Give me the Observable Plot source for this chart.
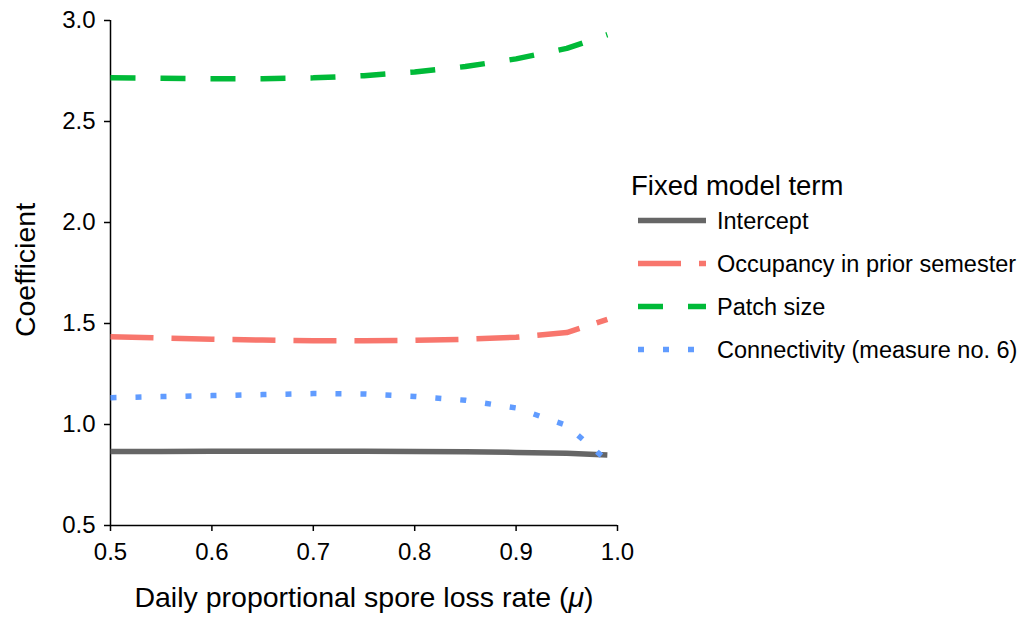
<!DOCTYPE html>
<html>
<head>
<meta charset="utf-8">
<script src="https://cdn.jsdelivr.net/npm/d3@7"></script>
<script src="https://cdn.jsdelivr.net/npm/@observablehq/plot@0.6"></script>
<style>
  body { margin: 0; background: #fff; }
  #wrap { position: relative; width: 1026px; height: 617px; font-family: "Liberation Sans", Arial, sans-serif; }
  #legend { position: absolute; left: 0; top: 0; }
  #wrap svg g.ticklab text { font-size: 24px !important; font-family: "Liberation Sans", Arial, sans-serif; }
</style>
</head>
<body>
<div id="wrap"></div>
<script>
const mu = [0.5, 0.55, 0.6, 0.65, 0.7, 0.75, 0.8, 0.85, 0.9, 0.95, 0.99];
const intercept = [0.866, 0.866, 0.867, 0.867, 0.867, 0.867, 0.866, 0.865, 0.862, 0.858, 0.849];
const occupancy = [1.435, 1.428, 1.422, 1.418, 1.415, 1.415, 1.417, 1.422, 1.432, 1.455, 1.52];
const patchSize = [2.717, 2.714, 2.712, 2.712, 2.716, 2.727, 2.745, 2.772, 2.81, 2.862, 2.93];
const connectivity = [1.133, 1.138, 1.143, 1.148, 1.153, 1.151, 1.139, 1.12, 1.082, 0.995, 0.82];

const terms = ["Intercept", "Occupancy in prior semester", "Patch size", "Connectivity (measure no. 6)"];
const colors = ["#666666", "#F8766D", "#00BA38", "#619CFF"];
const dashes = [null, "43,18", "25,25", "6,19"];
const seriesValues = [intercept, occupancy, patchSize, connectivity];
const xTicks = [0.5, 0.6, 0.7, 0.8, 0.9, 1.0];
const yTicks = [0.5, 1.0, 1.5, 2.0, 2.5, 3.0];
const xTitle = "Daily proportional spore loss rate (";
const yTitle = "Coefficient";
const legendTitle = "Fixed model term";

const fmt = d3.format(".1f");

const marks = [
  Plot.ruleX([0.5], {stroke: "#000", strokeWidth: 1.5}),
  Plot.ruleY([0.5], {stroke: "#000", strokeWidth: 1.5}),
  Plot.axisX({ticks: xTicks, tickFormat: () => "", tickSize: 6, stroke: "#000", strokeWidth: 1.5, label: null}),
  Plot.axisY({ticks: yTicks, tickFormat: () => "", tickSize: 6, stroke: "#000", strokeWidth: 1.5, label: null}),
  Plot.text(xTicks, {x: d => d, text: d => fmt(d), frameAnchor: "bottom", lineAnchor: "top", dy: 17,
    fontSize: 24, fill: "#000", className: "ticklab"}),
  Plot.text(yTicks, {y: d => d, text: d => fmt(d), frameAnchor: "left", textAnchor: "end", dx: -15,
    fontSize: 24, fill: "#000", className: "ticklab"})
];
seriesValues.forEach((vals, i) => {
  const data = mu.map((m, j) => ({mu: m, v: vals[j]}));
  marks.push(Plot.line(data, {x: "mu", y: "v", stroke: colors[i], strokeWidth: 5.5,
    strokeDasharray: dashes[i] || undefined, strokeLinecap: "butt", strokeLinejoin: "round"}));
});

const chart = Plot.plot({
  width: 1026,
  height: 617,
  marginLeft: 110,
  marginRight: 409,
  marginTop: 20,
  marginBottom: 92,
  style: {fontFamily: "Liberation Sans, Arial, sans-serif", color: "#000", background: "#fff", overflow: "visible"},
  x: {domain: [0.5, 1.0]},
  y: {domain: [0.5, 3.0]},
  marks
});

const svg = d3.select(chart);
svg.selectAll("g.ticklab").attr("font-size", 24).selectAll("text").style("font-size", "24px");

// axis titles
const xt = svg.append("text").attr("x", 364).attr("y", 607).attr("text-anchor", "middle")
  .style("font-size", "28.5px").attr("fill", "#000");
xt.append("tspan").text(xTitle);
xt.append("tspan").attr("font-style", "italic").text("μ");
xt.append("tspan").text(")");
svg.append("text").attr("transform", "translate(35,270) rotate(-90)").attr("text-anchor", "middle")
  .style("font-size", "28.5px").attr("fill", "#000").text(yTitle);

const wrap = document.getElementById("wrap");
wrap.appendChild(chart);

// legend
const leg = d3.select(wrap).append("svg").attr("id", "legend").attr("width", 1026).attr("height", 617)
  .style("font-family", "Liberation Sans, Arial, sans-serif");
leg.append("text").attr("x", 631).attr("y", 195).style("font-size", "27.5px").attr("fill", "#000").text(legendTitle);
terms.forEach((name, i) => {
  const y = 220.5 + i * 43;
  leg.append("line").attr("x1", 638).attr("x2", 706).attr("y1", y).attr("y2", y)
    .attr("stroke", colors[i]).attr("stroke-width", 5.5)
    .attr("stroke-dasharray", dashes[i]).attr("stroke-linecap", "butt");
  leg.append("text").attr("x", 717).attr("y", y + 8.5).style("font-size", "23.5px").attr("fill", "#000").text(name);
});
</script>
</body>
</html>
